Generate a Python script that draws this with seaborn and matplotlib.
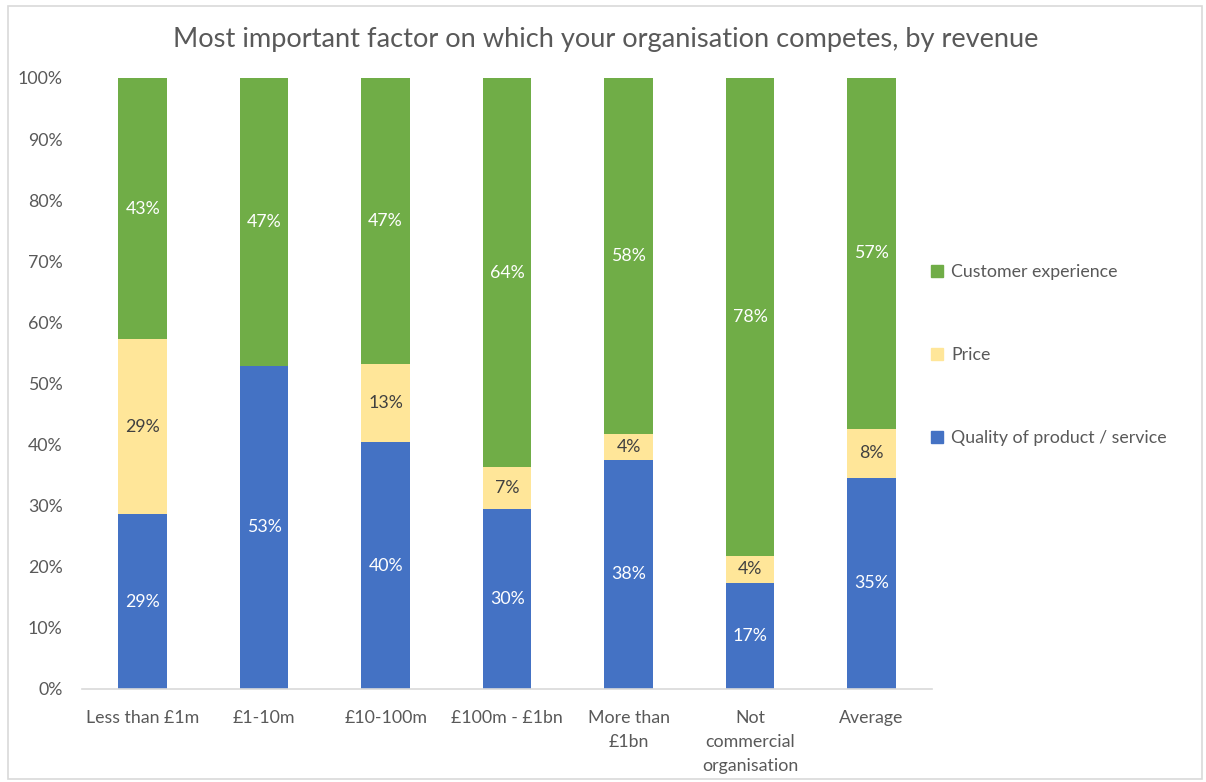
import matplotlib
matplotlib.use("Agg")
import matplotlib.pyplot as plt
import matplotlib.patches as mpatches
import seaborn as sns
import pandas as pd
import numpy as np

categories = ["Less than £1m", "£1-10m", "£10-100m", "£100m - £1bn",
              "More than\n£1bn", "Not\ncommercial\norganisation", "Average"]
quality = [28.6, 52.9, 40.4, 29.5, 37.5, 17.4, 34.6]
price = [28.6, 0.0, 12.8, 6.8, 4.2, 4.3, 8.0]
customer = [42.8, 47.1, 46.8, 63.7, 58.3, 78.3, 57.4]
series_names = ["Quality of product / service", "Price", "Customer experience"]
colors = ["#4472C4", "#FFE699", "#70AD47"]
label_colors = ["white", "#404040", "white"]
yticks = [0, 10, 20, 30, 40, 50, 60, 70, 80, 90, 100]

sns.set_theme(style="white")
plt.rcParams['font.family'] = ['Lato', 'DejaVu Sans']
text_color = "#595959"
fs = 12.8

fig = plt.figure(figsize=(12.06, 7.82), dpi=100)
fig.patch.set_facecolor("white")
ax = fig.add_axes([0.068, 0.119, 0.705, 0.7813])

df = pd.DataFrame({"cat": categories, "q": quality, "p": price, "c": customer})
df["qp"] = df["q"] + df["p"]
df["total"] = df["qp"] + df["c"]

layers = [("total", colors[2]), ("qp", colors[1]), ("q", colors[0])]
for col, colr in layers:
    sns.barplot(data=df, x="cat", y=col, color=colr, width=0.4, ax=ax,
                saturation=1, edgecolor="none", linewidth=0, errorbar=None)

# data labels
series_vals = [quality, price, customer]
for i in range(len(categories)):
    bottom = 0
    for s, vals in enumerate(series_vals):
        v = vals[i]
        if v > 0:
            ax.text(i, bottom + v / 2, f"{round(v)}%", ha="center", va="center",
                    color=label_colors[s], fontsize=fs)
        bottom += v

ax.set_ylim(0, 100)
ax.set_xlim(-0.5, len(categories) - 0.5)
ax.set_yticks(yticks)
ax.set_yticklabels([f"{t}%" for t in yticks], color=text_color, fontsize=fs)
ax.set_xticks(range(len(categories)))
ax.set_xticklabels(categories, color=text_color, fontsize=fs, linespacing=1.62, va="top")
ax.tick_params(axis="both", length=0)
ax.tick_params(axis="y", pad=14)
ax.tick_params(axis="x", pad=15)
ax.set_xlabel("")
ax.set_ylabel("")
for sp in ["top", "right", "left"]:
    ax.spines[sp].set_visible(False)
ax.spines["bottom"].set_color("#D9D9D9")
ax.spines["bottom"].set_linewidth(1.2)

fig.text(0.5025, 0.949, "Most important factor on which your organisation competes, by revenue",
         ha="center", va="center", fontsize=19.6, color=text_color)

# legend
handles = [mpatches.Patch(color=colors[s], label=series_names[s]) for s in [2, 1, 0]]
leg = fig.legend(handles=handles, loc="center left", bbox_to_anchor=(0.759, 0.546),
                 frameon=False, fontsize=fs, labelcolor=text_color,
                 handlelength=0.65, handleheight=0.65, handletextpad=0.45,
                 labelspacing=3.78)

# chart border
border = mpatches.Rectangle((0.0066, 0.004), 0.99, 0.988, transform=fig.transFigure,
                            fill=False, edgecolor="#D9D9D9", linewidth=1.2)
fig.patches.append(border)

fig.savefig("out.png", dpi=100)
